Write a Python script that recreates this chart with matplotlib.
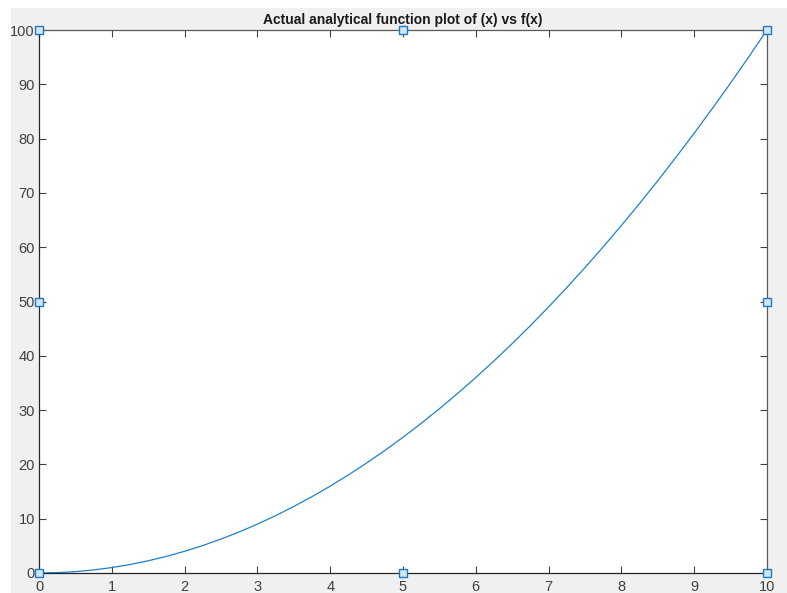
import matplotlib.pyplot as plt
from matplotlib.patches import Rectangle

x_vals = [0, 0.25, 0.5, 0.75, 1, 1.25, 1.5, 1.75, 2, 2.25, 2.5, 2.75, 3, 3.25, 3.5, 3.75,
          4, 4.25, 4.5, 4.75, 5, 5.25, 5.5, 5.75, 6, 6.25, 6.5, 6.75, 7, 7.25, 7.5, 7.75,
          8, 8.25, 8.5, 8.75, 9, 9.25, 9.5, 9.75, 10]
y_vals = [0, 0.0625, 0.25, 0.5625, 1, 1.5625, 2.25, 3.0625, 4, 5.0625, 6.25, 7.5625,
          9, 10.5625, 12.25, 14.0625, 16, 18.0625, 20.25, 22.5625, 25, 27.5625, 30.25,
          33.0625, 36, 39.0625, 42.25, 45.5625, 49, 52.5625, 56.25, 60.0625, 64, 68.0625,
          72.25, 76.5625, 81, 85.5625, 90.25, 95.0625, 100]

# Selection handles drawn by MATLAB around the axes
handle_x = [0, 5, 10, 0, 10, 0, 5, 10]
handle_y = [0, 0, 0, 50, 50, 100, 100, 100]

x_ticks = list(range(0, 11))
y_ticks = list(range(0, 101, 10))

plt.rcParams["font.family"] = ["Liberation Sans", "DejaVu Sans"]

fig = plt.figure(figsize=(7.87, 5.93), dpi=100, facecolor="#f0f0f0")
# white strip along the left and top edge of the screenshot
fig.patches.append(Rectangle((0, 0), 11 / 787, 1, transform=fig.transFigure,
                             facecolor="white", edgecolor="none", zorder=-1))
fig.patches.append(Rectangle((0, 1 - 8 / 593), 1, 8 / 593, transform=fig.transFigure,
                             facecolor="white", edgecolor="none", zorder=-1))

ax = fig.add_axes([39 / 787, 1 - 573 / 593, (767 - 39) / 787, (573 - 30) / 593])
ax.plot(x_vals, y_vals, color="#1f80c8", linewidth=0.9)
ax.plot(handle_x, handle_y, linestyle="none", marker="s", markersize=5.5,
        markerfacecolor="#cfe6f7", markeredgecolor="#1f78c1", markeredgewidth=1.0,
        clip_on=False, zorder=5)

ax.set_xlim(0, 10)
ax.set_ylim(0, 100)
ax.set_xticks(x_ticks)
ax.set_yticks(y_ticks)
ax.tick_params(direction="in", length=5, width=0.8, color="#404040",
               labelsize=10.5, labelcolor="#404040", top=True, right=True)
ax.tick_params(axis="x", pad=5)
ax.tick_params(axis="y", pad=3)
for s in ax.spines.values():
    s.set_color("#5a5a5a")
    s.set_linewidth(0.9)
ax.spines["left"].set_color("#262626")
ax.spines["bottom"].set_color("#262626")

ax.set_title("Actual analytical function plot of (x) vs f(x)", fontsize=10,
             fontweight="bold", color="#1a1a1a", pad=4)

fig.savefig("out.png", dpi=100, facecolor=fig.get_facecolor())
